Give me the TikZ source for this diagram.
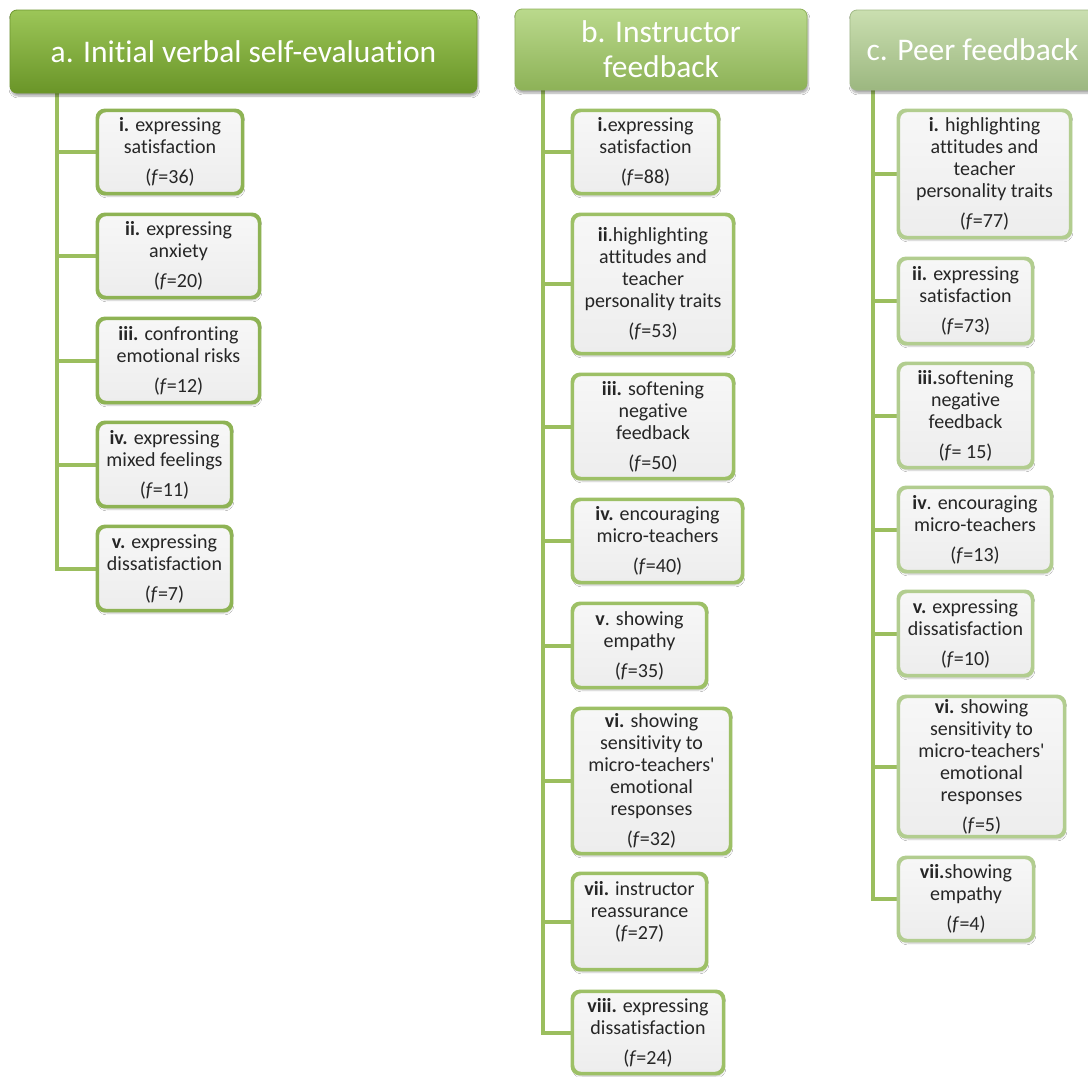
\documentclass[tikz,border=0pt]{standalone}
\usepackage{fontspec}
\setmainfont{Carlito}
% plain family: no ti/tt ligatures and straight apostrophes
\newfontfamily\calib{Carlito}[Ligatures=NoCommon]
\usetikzlibrary{shadows.blur}

\definecolor{hdrAtop}{HTML}{9CC658}
\definecolor{hdrAmid}{HTML}{82AE3C}
\definecolor{hdrAbot}{HTML}{6A9528}
\definecolor{hdrAedge}{HTML}{6E962E}
\definecolor{hdrBtop}{HTML}{BAD98C}
\definecolor{hdrBmid}{HTML}{A3C76F}
\definecolor{hdrBbot}{HTML}{8DB257}
\definecolor{hdrBedge}{HTML}{8FB25B}
\definecolor{hdrCtop}{HTML}{CADFB0}
\definecolor{hdrCmid}{HTML}{B5CD97}
\definecolor{hdrCbot}{HTML}{9CB780}
\definecolor{hdrCedge}{HTML}{A0B985}
\definecolor{edgeA}{HTML}{8EB354}
\definecolor{edgeB}{HTML}{9DC066}
\definecolor{edgeC}{HTML}{B2CD8F}
\definecolor{trunkcol}{HTML}{9BBE5E}
\definecolor{boxtop}{HTML}{F7F7F7}
\definecolor{boxbot}{HTML}{EDEDED}
\definecolor{txt}{HTML}{262626}

\tikzset{
  header/.style={rounded corners=7pt, inner sep=0pt, text=white,
    align=center, font=\calib\fontsize{31.5}{35}\selectfont, line width=0.8pt,
    blur shadow={shadow blur steps=6, shadow xshift=1pt, shadow yshift=-3pt, shadow opacity=35}},
  hdrA/.style={header, draw=hdrAedge, top color=hdrAtop, middle color=hdrAmid, bottom color=hdrAbot},
  hdrB/.style={header, draw=hdrBedge, top color=hdrBtop, middle color=hdrBmid, bottom color=hdrBbot},
  hdrC/.style={header, draw=hdrCedge, top color=hdrCtop, middle color=hdrCmid, bottom color=hdrCbot},
  item/.style={rounded corners=8pt, inner sep=0pt, line width=2.4pt,
    top color=boxtop, bottom color=boxbot, text=txt, align=center,
    font=\calib\fontsize{20}{22}\selectfont,
    blur shadow={shadow blur steps=5, shadow xshift=1pt, shadow yshift=-3pt, shadow opacity=25}},
  itemA/.style={item, draw=edgeA},
  itemB/.style={item, draw=edgeB},
  itemC/.style={item, draw=edgeC},
  trunk/.style={draw=trunkcol, line width=4pt},
  rim/.style={line width=2.4pt, rounded corners=8pt},
}

\begin{document}
\begin{tikzpicture}[x=1pt, y=-1pt]
\useasboundingbox (0,0) rectangle (1088,1077);
\clip (0,0) rectangle (1088,1077);
\fill[white] (0,0) rectangle (1088,1077);

% trunk tops, just under each header
\coordinate (ta) at (57,92);
\coordinate (tb) at (543,89);
\coordinate (tc) at (873,89);

% ---- column a: initial verbal self-evaluation ----
\node[itemA, minimum width=144pt, minimum height=82pt] (a1) at (170,152)
  {\textbf{i.} expressing\\ satisfaction\\[8pt] (\textit{f}=36)};
\node[itemA, minimum width=161pt, minimum height=82pt] (a2) at (178.5,256)
  {\textbf{ii.} expressing\\ anxiety\\[8pt] (\textit{f}=20)};
\node[itemA, minimum width=161pt, minimum height=83pt] (a3) at (178.5,360.5)
  {\textbf{iii.} confronting\\ emotional risks\\[8pt] (\textit{f}=12)};
\node[itemA, minimum width=133pt, minimum height=83pt] (a4) at (164.5,464.5)
  {\textbf{iv.} expressing\\ mixed feelings\\[8pt] (\textit{f}=11)};
\node[itemA, minimum width=133pt, minimum height=83pt] (a5) at (164.5,568.5)
  {\textbf{v.} expressing\\ dissatisfaction\\[8pt] (\textit{f}=7)};

% ---- column b: instructor feedback ----
\node[itemB, minimum width=145pt, minimum height=82pt] (b1) at (645.5,152)
  {\textbf{i.}expressing\\ satisfaction\\[8pt] (\textit{f}=88)};
\node[itemB, minimum width=160pt, minimum height=138pt] (b2) at (653,284)
  {\textbf{ii}.highlighting\\ attitudes and\\ teacher\\ personality traits\\[8pt] (\textit{f}=53)};
\node[itemB, minimum width=160pt, minimum height=103pt] (b3) at (653,426.5)
  {\textbf{iii.} softening\\ negative\\ feedback\\[8pt] (\textit{f}=50)};
\node[itemB, minimum width=169pt, minimum height=82pt] (b4) at (657.5,541)
  {\textbf{iv.} encouraging\\ micro-teachers\\[8pt] (\textit{f}=40)};
\node[itemB, minimum width=133pt, minimum height=83pt] (b5) at (639.5,645.5)
  {\textbf{v}. showing\\ empathy\\[8pt] (\textit{f}=35)};
\node[itemB, minimum width=157pt, minimum height=144pt] (b6) at (651.5,781)
  {\textbf{vi.} showing\\ sensitivity to\\ micro-teachers'\\ emotional\\ responses\\[8pt] (\textit{f}=32)};
\node[itemB, minimum width=133pt, minimum height=95pt] (b7) at (639.5,921.5)
  {\textbf{vii.} instructor\\ reassurance\\ (\textit{f}=27)\\ \mbox{}};
\node[itemB, minimum width=150pt, minimum height=81pt] (b8) at (648,1032.5)
  {\textbf{viii.} expressing\\ dissatisfaction\\[8pt] (\textit{f}=24)};

% ---- column c: peer feedback ----
\node[itemC, minimum width=171pt, minimum height=126pt] (c1) at (984.5,174)
  {\textbf{i.} highlighting\\ attitudes and\\ teacher\\ personality traits\\[8pt] (\textit{f}=77)};
\node[itemC, minimum width=133pt, minimum height=84pt] (c2) at (965.5,301)
  {\textbf{ii.} expressing\\ satisfaction\\[8pt] (\textit{f}=73)};
\node[itemC, minimum width=133pt, minimum height=103pt] (c3) at (965.5,415.5)
  {\textbf{iii.}softening\\ negative\\ feedback\\[8pt] (\textit{f}= 15)};
\node[itemC, minimum width=152pt, minimum height=83pt] (c4) at (975,529.5)
  {\textbf{iv}. encouraging\\ micro-teachers\\[8pt] (\textit{f}=13)};
\node[itemC, minimum width=133pt, minimum height=83pt] (c5) at (965.5,633.5)
  {\textbf{v.} expressing\\ dissatisfaction\\[8pt] (\textit{f}=10)};
\node[itemC, minimum width=165pt, minimum height=139pt] (c6) at (981.5,766.5)
  {\textbf{vi.} showing\\ sensitivity to\\ micro-teachers'\\ emotional\\ responses\\[8pt] (\textit{f}=5)};
\node[itemC, minimum width=134pt, minimum height=82pt] (c7) at (966,899)
  {\textbf{vii.}showing\\ empathy\\[8pt] (\textit{f}=4)};

% ---- connectors: trunk down each column, branch to every box ----
\draw[trunk] (ta) |- (a5.west);
\foreach \i in {1,...,4} \draw[trunk] (ta |- a\i.west) -- (a\i.west);
\draw[trunk] (tb) |- (b8.west);
\foreach \i in {1,...,7} \draw[trunk] (tb |- b\i.west) -- (b\i.west);
\draw[trunk] (tc) |- (c7.west);
\foreach \i in {1,...,6} \draw[trunk] (tc |- c\i.west) -- (c\i.west);

% redraw box outlines over branch ends
\foreach \n in {a1,a2,a3,a4,a5} \draw[rim, edgeA] (\n.north west) rectangle (\n.south east);
\foreach \n in {b1,b2,b3,b4,b5,b6,b7,b8} \draw[rim, edgeB] (\n.north west) rectangle (\n.south east);
\foreach \n in {c1,c2,c3,c4,c5,c6,c7} \draw[rim, edgeC] (\n.north west) rectangle (\n.south east);

% ---- headers ----
\node[hdrA, minimum width=467pt, minimum height=83pt] (ha) at (243.5,51.5)
  {a. Initial verbal self-evaluation};
\node[hdrB, minimum width=292pt, minimum height=81pt] (hb) at (661,49.5)
  {b. Instructor\\ feedback};
\node[hdrC, minimum width=245pt, minimum height=80pt] (hc) at (972.5,50)
  {c. Peer feedback};
\end{tikzpicture}
\end{document}
